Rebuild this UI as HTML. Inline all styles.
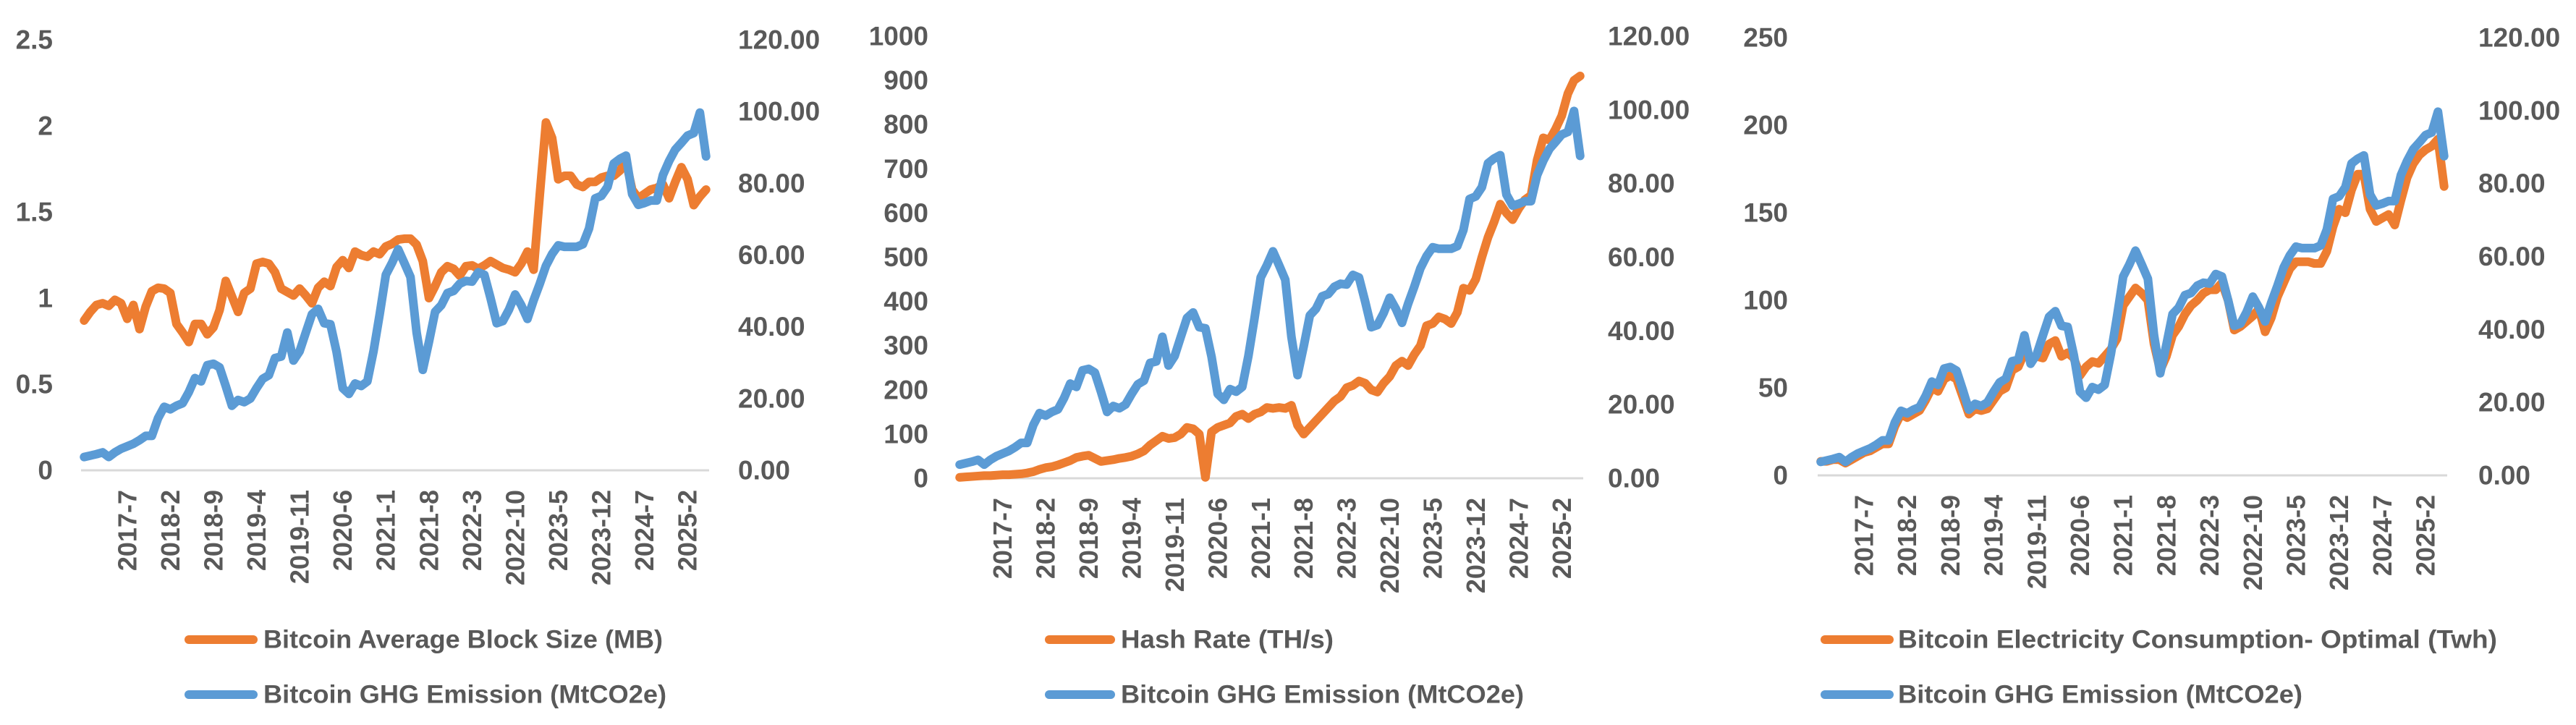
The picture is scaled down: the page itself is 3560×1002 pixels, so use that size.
<!DOCTYPE html>
<html><head><meta charset="utf-8"><style>
html,body{margin:0;padding:0;background:#fff;}
svg{display:block;font-family:"Liberation Sans",sans-serif;}
</style></head><body>
<svg id="root" width="3560" height="1002" viewBox="0 0 3560 1002"></svg>
<script>
const months = [];
for (let i = 0; i < 102; i++) { const m = 11 + i; months.push((2016 + Math.floor(m / 12)) + '-' + (m % 12 + 1)); }
const tickIndices = [7,14,21,28,35,42,49,56,63,70,77,84,91,98];

const ghgEmission = [3.7,4.1,4.5,5.0,3.7,5,6,6.7,7.4,8.4,9.6,9.6,14.5,17.7,17,18,18.7,21.8,25.7,24.8,29.3,29.7,28.7,23.5,18,19.6,19,20,22.9,25.5,26.5,31.3,31.7,38.4,30.6,33.2,38.4,43.5,45,41,40.7,33,22.9,21.3,24.2,23.5,24.8,33.2,43.5,54.5,57.8,61.6,57.8,53.9,38.4,28,35.8,44.2,46,49.4,50,52,52.8,52.6,55.2,54.5,48,41,41.6,44.8,49,46,42.2,47.4,52,57,60.3,62.7,62.3,62.3,62.3,63,67.4,75.8,76.5,79,85.5,86.8,87.7,77,74,74.5,75.2,75.2,82.3,86.2,89.4,91.3,93.3,94,99.7,87.5];
const blockSize = [0.87,0.92,0.96,0.97,0.955,0.99,0.97,0.88,0.96,0.82,0.95,1.04,1.06,1.055,1.03,0.85,0.80,0.745,0.85,0.85,0.79,0.83,0.93,1.1,1.01,0.92,1.03,1.055,1.2,1.21,1.2,1.15,1.055,1.035,1.015,1.055,1.015,0.97,1.06,1.095,1.07,1.18,1.22,1.175,1.27,1.25,1.24,1.27,1.255,1.3,1.315,1.34,1.345,1.345,1.31,1.215,1.0,1.07,1.15,1.185,1.17,1.13,1.185,1.19,1.17,1.19,1.215,1.195,1.175,1.165,1.15,1.2,1.27,1.165,1.6,2.02,1.93,1.69,1.71,1.71,1.66,1.645,1.675,1.675,1.7,1.71,1.71,1.74,1.795,1.63,1.58,1.605,1.63,1.64,1.66,1.58,1.675,1.76,1.69,1.54,1.59,1.63];
const hashRate = [2,3,4,5,6,6,7,8,8,9,10,12,15,20,24,26,30,35,40,47,50,52,45,38,40,42,45,47,50,55,62,75,85,95,90,92,100,115,112,100,2,105,115,120,125,140,145,135,145,150,160,158,160,158,165,120,100,115,130,145,160,175,185,205,210,220,215,200,195,215,230,255,265,255,280,300,345,350,365,360,350,375,430,425,450,500,545,580,620,600,585,610,630,640,720,770,765,790,820,870,900,910];
const electricity = [8,8,9,9,7,9,11,13,14,16,18,18,28,35,33,35,37,43,50,48,55,57,55,45,35,38,37,38,43,48,50,60,62,70,67,68,67,75,77,68,70,67,57,62,65,64,68,72,78,97,102,107,104,100,75,60,68,80,85,92,97,100,104,106,106,110,100,83,85,88,91,95,82,90,102,110,118,122,122,122,121,121,128,142,152,150,163,172,172,152,145,147,149,143,157,170,178,183,186,188,192,165];

const leftTicks1 = ['0','0.5','1','1.5','2','2.5'];
const leftTicks2 = ['0','100','200','300','400','500','600','700','800','900','1000'];
const leftTicks3 = ['0','50','100','150','200','250'];
const rightTicks = ['0.00','20.00','40.00','60.00','80.00','100.00','120.00'];

const NS = 'http://www.w3.org/2000/svg';
const root = document.getElementById('root');
function mk(tag, attrs, parent) { const e = document.createElementNS(NS, tag); for (const k in attrs) e.setAttribute(k, attrs[k]); (parent || root).appendChild(e); return e; }

const charts = [
  {key:'block-size', x0:112, x1:980, y0:650, yT:55, lMax:2.5, lTicks:leftTicks1, lLab:73, rLab:1020, series:blockSize,
   lx0:255, lx1:356, tx:364, name1:'Bitcoin Average Block Size (MB)', w1:552, w2:557},
  {key:'hash-rate', x0:1322, x1:2188, y0:661, yT:50, lMax:1000, lTicks:leftTicks2, lLab:1283, rLab:2222, series:hashRate,
   lx0:1444, lx1:1541, tx:1549, name1:'Hash Rate (TH/s)', w1:294, w2:557},
  {key:'electricity', x0:2512, x1:3382, y0:657, yT:52, lMax:250, lTicks:leftTicks3, lLab:2471, rLab:3425, series:electricity,
   lx0:2516, lx1:2617, tx:2623, name1:'Bitcoin Electricity Consumption- Optimal (Twh)', w1:828, w2:559}
];

charts.forEach(c => {
  const g = mk('g', {});
  
  
  const band = (c.x1 - c.x0) / months.length;
  const xs = i => c.x0 + band * (i + 0.5);
  const yl = v => c.y0 - (v / c.lMax) * (c.y0 - c.yT);
  const yr = v => c.y0 - (v / 120) * (c.y0 - c.yT);

  c.lTicks.forEach(t => {
    const e = mk('text', {x:c.lLab, y:yl(parseFloat(t)), 'text-anchor':'end', 'dominant-baseline':'central', 'font-size':37, 'font-weight':'bold', fill:'#595959'}, g);
    e.textContent = t;
    
    
  });
  rightTicks.forEach(t => {
    const e = mk('text', {x:c.rLab, y:yr(parseFloat(t)), 'text-anchor':'start', 'dominant-baseline':'central', 'font-size':37, 'font-weight':'bold', fill:'#595959'}, g);
    e.textContent = t;
    
    
  });
  const ax = mk('line', {x1:c.x0, x2:c.x1, y1:c.y0, y2:c.y0, stroke:'#D9D9D9', 'stroke-width':3}, g);
  
  
  tickIndices.forEach(i => {
    const x = xs(i), y = c.y0 + 27;
    const e = mk('text', {x:x, y:y, transform:'rotate(-90 ' + x + ' ' + y + ')', 'text-anchor':'end', 'dominant-baseline':'central', 'font-size':36, 'font-weight':'bold', fill:'#595959'}, g);
    e.textContent = months[i];
    
    
  });
  const p1 = mk('polyline', {points:c.series.map((v,i)=>xs(i)+','+yl(v)).join(' '), fill:'none', stroke:'#ED7D31', 'stroke-width':12, 'stroke-linejoin':'round', 'stroke-linecap':'round'}, g);
  
  
  const p2 = mk('polyline', {points:ghgEmission.map((v,i)=>xs(i)+','+yr(v)).join(' '), fill:'none', stroke:'#5B9BD5', 'stroke-width':12, 'stroke-linejoin':'round', 'stroke-linecap':'round'}, g);
  
  

  [[c.name1, '#ED7D31', 884, c.w1, c.key], ['Bitcoin GHG Emission (MtCO2e)', '#5B9BD5', 960, c.w2, 'ghg-emission']].forEach(L => {
    const lg = mk('g', {}, g);
    
    
    mk('line', {x1:c.lx0 + 6, x2:c.lx1 - 6, y1:L[2], y2:L[2], stroke:L[1], 'stroke-width':12, 'stroke-linecap':'round'}, lg);
    const t = mk('text', {x:c.tx, y:L[2], 'dominant-baseline':'central', 'font-size':35, 'font-weight':'bold', fill:'#595959', textLength:L[3], lengthAdjust:'spacingAndGlyphs'}, lg);
    t.textContent = L[0];
  });
});
</script>
</body></html>
